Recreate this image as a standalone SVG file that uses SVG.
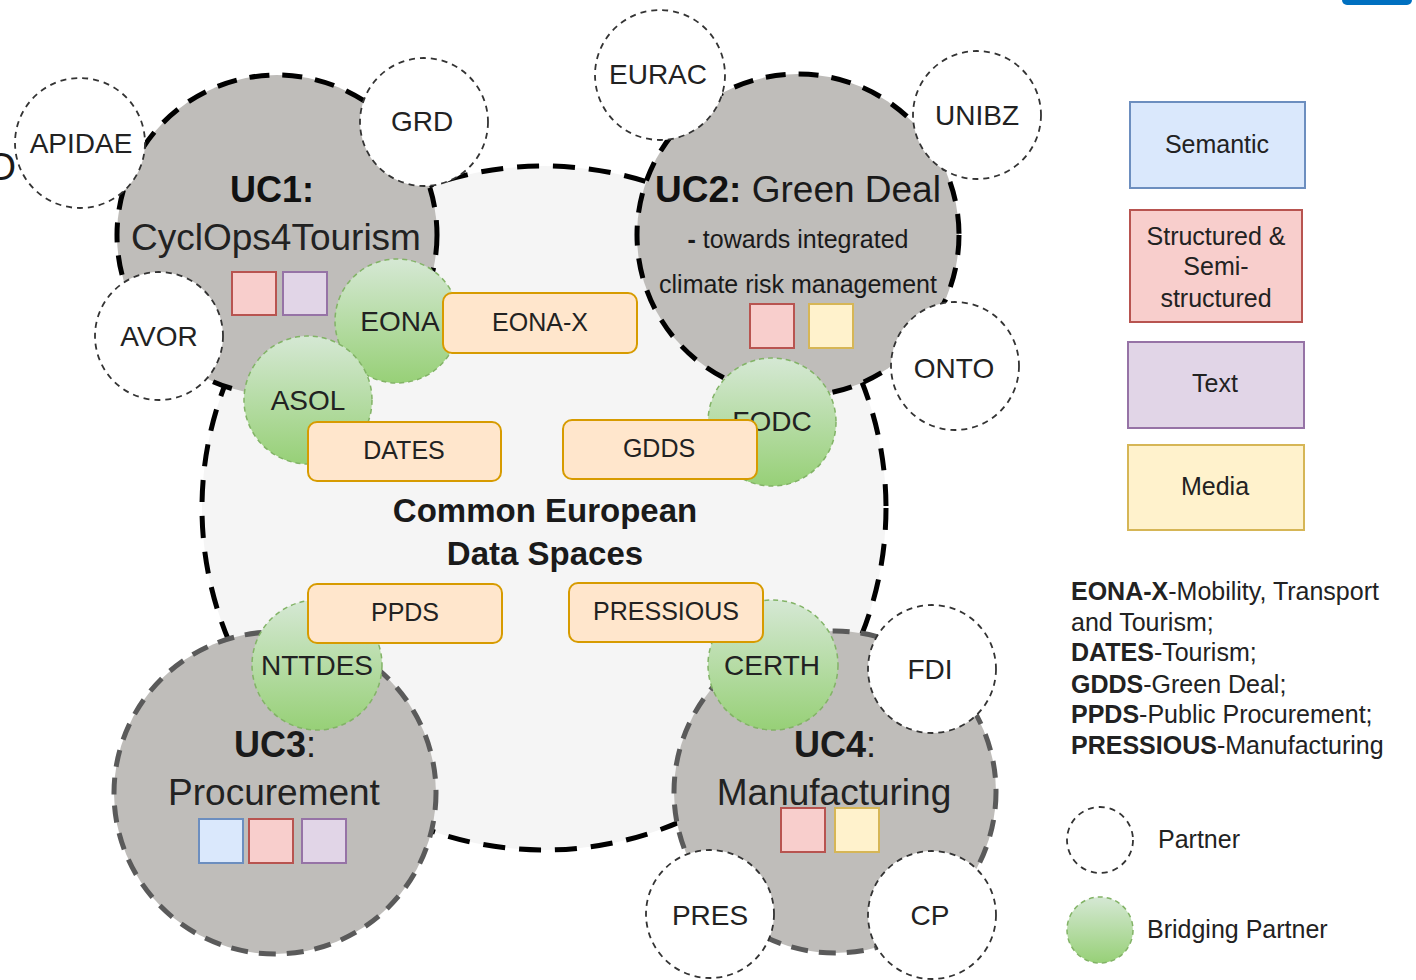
<svg xmlns="http://www.w3.org/2000/svg" width="1416" height="980" viewBox="0 0 1416 980">
<defs>
  <linearGradient id="greenGrad" x1="0" y1="0" x2="0" y2="1">
    <stop offset="0" stop-color="#d5e8d4"/>
    <stop offset="1" stop-color="#97d077"/>
  </linearGradient>
  <style>
    text { font-family: "Liberation Sans", Arial, sans-serif; fill: #1a1a1a; }
    .common { fill: #f5f5f5; stroke: #000; stroke-width: 5; stroke-dasharray: 22 14; }
    .ucA { fill: #bfbdba; stroke: #000; stroke-width: 5; stroke-dasharray: 20 13; }
    .ucB { fill: #bfbdba; stroke: #5a5a5a; stroke-width: 5; stroke-dasharray: 17 11; }
    .partner { fill: #ffffff; stroke: #333; stroke-width: 1.8; stroke-dasharray: 6 5; }
    .bridge { fill: url(#greenGrad); stroke: #82b366; stroke-width: 1.5; stroke-dasharray: 5 4; }
    .ds { fill: #ffe6cc; stroke: #d79b00; stroke-width: 2; }
    .lbl { font-size: 28px; text-anchor: middle; fill: #222; }
    .dsl { font-size: 25px; text-anchor: middle; fill: #222; }
    .sem { fill: #dae8fc; stroke: #6c8ebf; stroke-width: 2; }
    .str { fill: #f8cecc; stroke: #b85450; stroke-width: 2; }
    .txt { fill: #e1d5e7; stroke: #9673a6; stroke-width: 2; }
    .med { fill: #fff2cc; stroke: #d6b656; stroke-width: 2; }
    .title { font-size: 36px; font-weight: bold; text-anchor: middle; fill: #111; }
    .sub { font-size: 37px; text-anchor: middle; fill: #222; }
    .leg { font-size: 25px; fill: #222; }
    .legc { font-size: 25px; text-anchor: middle; fill: #222; }
    b, .b { font-weight: bold; }
  </style>
</defs>

<rect x="0" y="0" width="1416" height="980" fill="#ffffff"/>
<rect x="1342" y="-10" width="70" height="15" rx="5" fill="#0070c0"/>
<text x="16" y="180" font-size="38" text-anchor="end" fill="#000">O</text>

<g id="common-european-data-spaces">
  <circle class="common" cx="544" cy="508" r="342"/>
</g>

<g id="uc1">
  <circle class="ucA" cx="277" cy="235" r="160"/>
  <text class="title" x="272" y="202">UC1:</text>
  <text class="sub" x="276" y="250">CyclOps4Tourism</text>
  <rect class="str" x="232" y="272" width="44" height="43"/>
  <rect class="txt" x="283" y="272" width="44" height="43"/>
</g>

<g id="uc2">
  <circle class="ucA" cx="798" cy="235" r="161"/>
  <text x="798" y="202" font-size="37" text-anchor="middle" fill="#222"><tspan font-weight="bold" fill="#111">UC2:</tspan> Green Deal</text>
  <text x="798" y="248" font-size="25" text-anchor="middle" fill="#222"><tspan font-weight="bold">-</tspan>  towards integrated</text>
  <text x="798" y="293" font-size="25" text-anchor="middle" fill="#222">climate risk management</text>
  <rect class="str" x="750" y="304" width="44" height="44"/>
  <rect class="med" x="809" y="304" width="44" height="44"/>
</g>

<g id="uc3">
  <circle class="ucB" cx="275" cy="793" r="161"/>
  <text x="275" y="757" font-size="36" text-anchor="middle" fill="#111"><tspan font-weight="bold">UC3</tspan>:</text>
  <text class="sub" x="274" y="805">Procurement</text>
  <rect class="sem" x="199" y="819" width="44" height="44"/>
  <rect class="str" x="249" y="819" width="44" height="44"/>
  <rect class="txt" x="302" y="819" width="44" height="44"/>
</g>

<g id="uc4">
  <circle class="ucB" cx="835" cy="792" r="161"/>
  <text x="835" y="757" font-size="36" text-anchor="middle" fill="#333"><tspan font-weight="bold">UC4</tspan>:</text>
  <text class="sub" x="834" y="805" fill="#333">Manufacturing</text>
  <rect class="str" x="781" y="808" width="44" height="44"/>
  <rect class="med" x="835" y="808" width="44" height="44"/>
</g>

<g id="partner-apidae"><circle class="partner" cx="80" cy="143" r="65"/><text class="lbl" x="81" y="153">APIDAE</text></g>
<g id="partner-grd"><circle class="partner" cx="424" cy="122" r="64"/><text class="lbl" x="422" y="131">GRD</text></g>
<g id="partner-avor"><circle class="partner" cx="159" cy="336" r="64"/><text class="lbl" x="159" y="346">AVOR</text></g>
<g id="partner-eurac"><circle class="partner" cx="660" cy="75" r="65"/><text class="lbl" x="658" y="84">EURAC</text></g>
<g id="partner-unibz"><circle class="partner" cx="977" cy="115" r="64"/><text class="lbl" x="977" y="125">UNIBZ</text></g>
<g id="partner-onto"><circle class="partner" cx="955" cy="366" r="64"/><text class="lbl" x="954" y="378">ONTO</text></g>
<g id="partner-fdi"><circle class="partner" cx="932" cy="669" r="64"/><text class="lbl" x="930" y="679">FDI</text></g>
<g id="partner-pres"><circle class="partner" cx="710" cy="914" r="64"/><text class="lbl" x="710" y="925">PRES</text></g>
<g id="partner-cp"><circle class="partner" cx="932" cy="915" r="64"/><text class="lbl" x="930" y="925">CP</text></g>

<g id="bridge-eona"><circle class="bridge" cx="397" cy="321" r="62"/><text class="lbl" x="400" y="331">EONA</text></g>
<g id="bridge-asol"><circle class="bridge" cx="308" cy="400" r="64"/><text class="lbl" x="308" y="410">ASOL</text></g>
<g id="bridge-fodc"><circle class="bridge" cx="772" cy="422" r="64"/><text class="lbl" x="772" y="431">FODC</text></g>
<g id="bridge-nttdes"><circle class="bridge" cx="317" cy="665" r="65"/><text class="lbl" x="317" y="675">NTTDES</text></g>
<g id="bridge-certh"><circle class="bridge" cx="773" cy="665" r="65"/><text class="lbl" x="772" y="675">CERTH</text></g>

<g id="ds-eona-x"><rect class="ds" x="443" y="293" width="194" height="60" rx="9"/><text class="dsl" x="540" y="331">EONA-X</text></g>
<g id="ds-dates"><rect class="ds" x="308" y="422" width="193" height="59" rx="9"/><text class="dsl" x="404" y="459">DATES</text></g>
<g id="ds-gdds"><rect class="ds" x="563" y="420" width="194" height="59" rx="9"/><text class="dsl" x="659" y="457">GDDS</text></g>
<g id="ds-ppds"><rect class="ds" x="308" y="584" width="194" height="59" rx="9"/><text class="dsl" x="405" y="621">PPDS</text></g>
<g id="ds-pressious"><rect class="ds" x="569" y="583" width="194" height="59" rx="9"/><text class="dsl" x="666" y="620">PRESSIOUS</text></g>

<g id="common-label">
  <text x="545" y="522" font-size="33" font-weight="bold" text-anchor="middle" fill="#111">Common European</text>
  <text x="545" y="565" font-size="33" font-weight="bold" text-anchor="middle" fill="#111">Data Spaces</text>
</g>

<g id="connectors"></g>

<g id="legend">
  <g id="legend-semantic"><rect class="sem" x="1130" y="102" width="175" height="86"/><text class="legc" x="1217" y="153">Semantic</text></g>
  <g id="legend-structured"><rect class="str" x="1130" y="210" width="172" height="112"/>
    <text class="legc" x="1216" y="245">Structured &amp;</text>
    <text class="legc" x="1216" y="275">Semi-</text>
    <text class="legc" x="1216" y="307">structured</text>
  </g>
  <g id="legend-text"><rect class="txt" x="1128" y="342" width="176" height="86"/><text class="legc" x="1215" y="392">Text</text></g>
  <g id="legend-media"><rect class="med" x="1128" y="445" width="176" height="85"/><text class="legc" x="1215" y="495">Media</text></g>
  <g id="legend-abbrev">
    <text class="leg" x="1071" y="600"><tspan font-weight="bold">EONA-X</tspan>-Mobility, Transport</text>
    <text class="leg" x="1071" y="631">and Tourism;</text>
    <text class="leg" x="1071" y="661"><tspan font-weight="bold">DATES</tspan>-Tourism;</text>
    <text class="leg" x="1071" y="693"><tspan font-weight="bold">GDDS</tspan>-Green Deal;</text>
    <text class="leg" x="1071" y="723"><tspan font-weight="bold">PPDS</tspan>-Public Procurement;</text>
    <text class="leg" x="1071" y="754"><tspan font-weight="bold">PRESSIOUS</tspan>-Manufacturing</text>
  </g>
  <g id="legend-partner"><circle class="partner" cx="1100" cy="840" r="33"/><text class="leg" x="1158" y="848">Partner</text></g>
  <g id="legend-bridging"><circle class="bridge" cx="1100" cy="930" r="33"/><text class="leg" x="1147" y="938">Bridging Partner</text></g>
</g>
</svg>
